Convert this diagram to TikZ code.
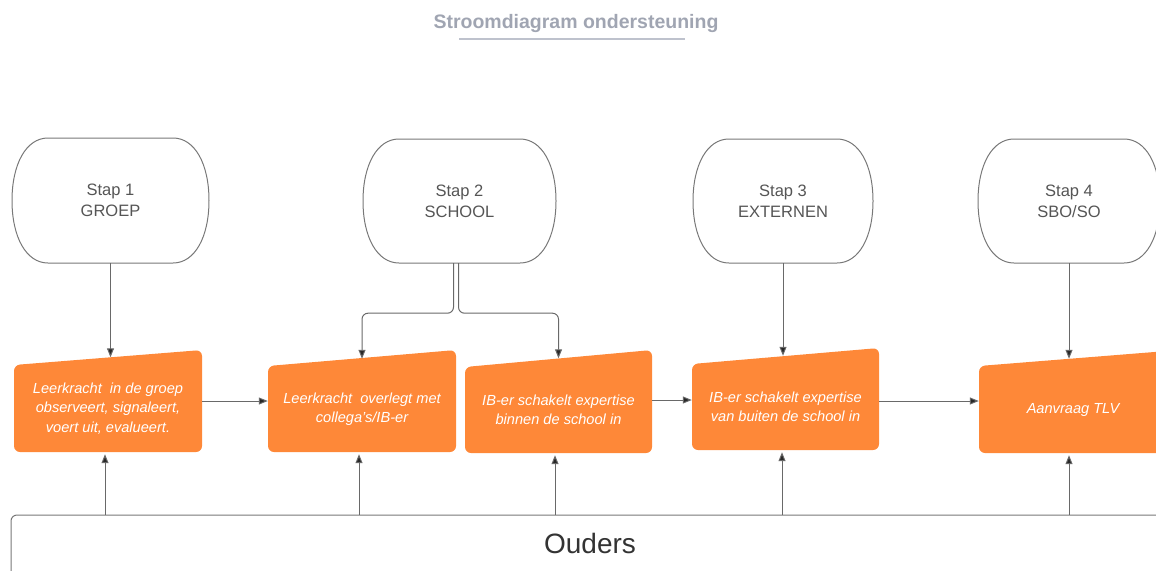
\documentclass[tikz,border=0pt]{standalone}
\usepackage{fontspec}
\setmainfont{Liberation Sans}
\usetikzlibrary{arrows.meta,calc}
\definecolor{orng}{RGB}{254,136,56}
\definecolor{titlegray}{RGB}{160,165,178}
\definecolor{ulgray}{RGB}{190,194,205}
\definecolor{stadgray}{RGB}{120,120,120}
\definecolor{stadtxt}{RGB}{85,85,85}
\definecolor{linegray}{RGB}{105,105,105}
\definecolor{tipgray}{RGB}{40,40,40}
\tikzset{
  stadtext/.style={inner sep=0pt, align=center, text=stadtxt, font=\fontsize{16.5}{21}\selectfont},
  stadline/.style={draw=stadgray, line width=1pt},
  boxtext/.style={inner sep=0pt, align=center, text=white, font=\itshape\fontsize{14.6}{19.5}\selectfont},
  arr/.style={draw=linegray, line width=1pt, -{Triangle[length=9pt,width=7pt,fill=tipgray]}},
  ouderbox/.style={draw=stadgray, line width=1pt, rounded corners=6pt, inner sep=0pt},
  titletext/.style={inner sep=0pt, text=titlegray, font=\bfseries\fontsize{19.5}{24}\selectfont}
}
\newcommand{\stadium}[6]{%
  \node[stadtext, minimum width={#4-#2}, minimum height={#5-#3}] (#1) at ({(#2+#4)/2},{(#3+#5)/2}) {#6};
  \draw[stadline] ({#2+36},#3) -- ({#4-36},#3)
    .. controls ({#4-14},#3) and (#4,{#3+(#5-#3)/2*0.42}) .. (#4,{(#3+#5)/2})
    .. controls (#4,{#5-(#5-#3)/2*0.42}) and ({#4-14},#5) .. ({#4-36},#5)
    -- ({#2+36},#5)
    .. controls ({#2+14},#5) and (#2,{#5-(#5-#3)/2*0.42}) .. (#2,{(#3+#5)/2})
    .. controls (#2,{#3+(#5-#3)/2*0.42}) and ({#2+14},#3) .. cycle;}
\newcommand{\orangebox}[7]{%
  \fill[orng, rounded corners=6pt] (#2,#4) -- (#3,#5) -- (#3,#6) -- (#2,#6) -- cycle;
  \node[boxtext, minimum width={#3-#2}, minimum height={#6-#4}] (#1) at ({(#2+#3)/2},{(#4+#6)/2}) {#7};}
\begin{document}
\begin{tikzpicture}[x=1pt,y=-1pt]
\useasboundingbox (0,0) rectangle (1156,570);
% title
\node[titletext] (title) at (576,24) {Stroomdiagram ondersteuning};
\draw[ulgray, line width=2pt] (459,39) -- (685,39);
% steps
\stadium{s1}{12}{138}{209}{263}{Stap 1\\GROEP}
\stadium{s2}{363}{139}{556}{263}{Stap 2\\SCHOOL}
\stadium{s3}{693}{139}{873}{263}{Stap 3\\EXTERNEN}
\stadium{s4}{978}{139}{1160}{263}{Stap 4\\SBO/SO}
% orange boxes
\orangebox{b1}{14}{202}{365}{350}{452}{Leerkracht\ \ in de groep\\observeert, signaleert,\\voert uit, evalueert.}
\orangebox{b2}{268}{456}{366}{350}{452}{Leerkracht\ \ overlegt met\\collega's/IB-er}
\orangebox{b3}{465}{652}{367}{350}{453}{IB-er schakelt expertise\\binnen de school in}
\orangebox{b4}{692}{879}{364}{348}{450}{IB-er schakelt expertise\\van buiten de school in}
\orangebox{b5}{979}{1167}{366}{351}{453}{Aanvraag TLV}
% ouders
\node[ouderbox, minimum width=1158, minimum height=70] (ouders) at (590,550) {};
\node[inner sep=0pt, text=black!80, font=\fontsize{28}{32}\selectfont] (oudtxt) at (590,543) {Ouders};
% step arrows
\draw[arr] (s1.south) -- ($(s1.south |- b1.north)+(0,-7.5)$);
\draw[arr, rounded corners=6pt] ([xshift=-6pt]s2.south) -- ++(0,50) -| ($(b2.north)+(0,-7)$);
\draw[arr, rounded corners=6pt] ([xshift=-1pt]s2.south) -- ++(0,50) -| ($(b3.north)+(0,-8.5)$);
\draw[arr] (s3.south) -- ($(s3.south |- b4.north)+(0,-8)$);
\draw[arr] (s4.south) -- ($(s4.south |- b5.north)+(0,-7)$);
% horizontal arrows
\draw[arr] ($(b1.east)+(0,-7.5)$) -- ($(b1.east -| b2.west)+(0,-7.5)$);
\draw[arr] ($(b3.east)+(0,-10)$) -- ($(b3.east -| b4.west)+(0,-10)$);
\draw[arr] ($(b4.east)+(0,-6)$) -- ($(b4.east -| b5.west)+(0,-6)$);
% parent arrows
\foreach \b/\dx in {b1/-3, b2/-3, b3/-3.5, b4/-3.5, b5/-4}{
  \draw[arr, shorten >=2pt] ($(\b.south |- ouders.north)+(\dx,0)$) -- ($(\b.south)+(\dx,0)$);
}
\end{tikzpicture}
\end{document}
